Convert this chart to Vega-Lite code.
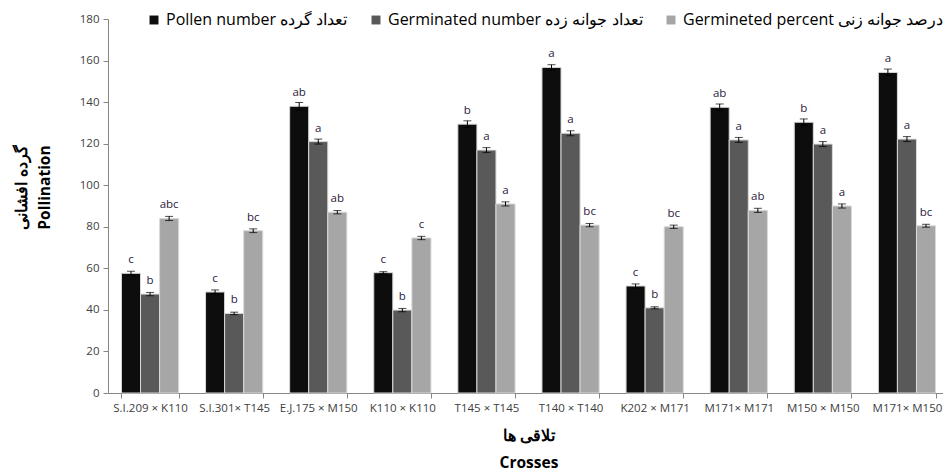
{
  "$schema": "https://vega.github.io/schema/vega-lite/v6.json",
  "autosize": {"type": "none"},
  "padding": {"left": 108, "top": 19, "right": 0, "bottom": 79},
  "width": 835,
  "height": 374,
  "config": {
    "font": "Open Sans",
    "view": {"stroke": null}
  },
  "data": {
    "values": [
      {"cross": "S.I.209 × K110", "series": "Pollen number تعداد گرده", "value": 57.6, "err": 1.0, "letter": "c"},
      {"cross": "S.I.209 × K110", "series": "Germinated number تعداد جوانه زده", "value": 47.6, "err": 0.8, "letter": "b"},
      {"cross": "S.I.209 × K110", "series": "Germineted percent درصد جوانه زنی", "value": 84.0, "err": 1.0, "letter": "abc"},
      {"cross": "S.I.301× T145", "series": "Pollen number تعداد گرده", "value": 48.6, "err": 1.0, "letter": "c"},
      {"cross": "S.I.301× T145", "series": "Germinated number تعداد جوانه زده", "value": 38.3, "err": 0.6, "letter": "b"},
      {"cross": "S.I.301× T145", "series": "Germineted percent درصد جوانه زنی", "value": 78.1, "err": 0.9, "letter": "bc"},
      {"cross": "E.J.175 × M150", "series": "Pollen number تعداد گرده", "value": 138.0, "err": 1.8, "letter": "ab"},
      {"cross": "E.J.175 × M150", "series": "Germinated number تعداد جوانه زده", "value": 121.0, "err": 1.2, "letter": "a"},
      {"cross": "E.J.175 × M150", "series": "Germineted percent درصد جوانه زنی", "value": 87.0, "err": 0.8, "letter": "ab"},
      {"cross": "K110 × K110", "series": "Pollen number تعداد گرده", "value": 57.9, "err": 0.5, "letter": "c"},
      {"cross": "K110 × K110", "series": "Germinated number تعداد جوانه زده", "value": 39.9, "err": 0.8, "letter": "b"},
      {"cross": "K110 × K110", "series": "Germineted percent درصد جوانه زنی", "value": 74.6, "err": 0.8, "letter": "c"},
      {"cross": "T145 × T145", "series": "Pollen number تعداد گرده", "value": 129.4, "err": 1.6, "letter": "b"},
      {"cross": "T145 × T145", "series": "Germinated number تعداد جوانه زده", "value": 116.9, "err": 1.2, "letter": "a"},
      {"cross": "T145 × T145", "series": "Germineted percent درصد جوانه زنی", "value": 91.0, "err": 1.0, "letter": "a"},
      {"cross": "T140 × T140", "series": "Pollen number تعداد گرده", "value": 156.7, "err": 1.3, "letter": "a"},
      {"cross": "T140 × T140", "series": "Germinated number تعداد جوانه زده", "value": 125.0, "err": 1.2, "letter": "a"},
      {"cross": "T140 × T140", "series": "Germineted percent درصد جوانه زنی", "value": 80.8, "err": 0.8, "letter": "bc"},
      {"cross": "K202 × M171", "series": "Pollen number تعداد گرده", "value": 51.5, "err": 1.0, "letter": "c"},
      {"cross": "K202 × M171", "series": "Germinated number تعداد جوانه زده", "value": 41.0, "err": 0.5, "letter": "b"},
      {"cross": "K202 × M171", "series": "Germineted percent درصد جوانه زنی", "value": 80.0, "err": 0.8, "letter": "bc"},
      {"cross": "M171× M171", "series": "Pollen number تعداد گرده", "value": 137.5, "err": 1.6, "letter": "ab"},
      {"cross": "M171× M171", "series": "Germinated number تعداد جوانه زده", "value": 121.8, "err": 1.2, "letter": "a"},
      {"cross": "M171× M171", "series": "Germineted percent درصد جوانه زنی", "value": 87.9, "err": 1.0, "letter": "ab"},
      {"cross": "M150 × M150", "series": "Pollen number تعداد گرده", "value": 130.3, "err": 1.6, "letter": "b"},
      {"cross": "M150 × M150", "series": "Germinated number تعداد جوانه زده", "value": 119.8, "err": 1.2, "letter": "a"},
      {"cross": "M150 × M150", "series": "Germineted percent درصد جوانه زنی", "value": 90.0, "err": 1.0, "letter": "a"},
      {"cross": "M171× M150", "series": "Pollen number تعداد گرده", "value": 154.3, "err": 1.6, "letter": "a"},
      {"cross": "M171× M150", "series": "Germinated number تعداد جوانه زده", "value": 122.2, "err": 1.2, "letter": "a"},
      {"cross": "M171× M150", "series": "Germineted percent درصد جوانه زنی", "value": 80.5, "err": 0.7, "letter": "bc"}
    ]
  },
  "encoding": {
    "x": {
      "field": "cross", "type": "nominal", "sort": null,
      "scale": {"paddingInner": 0.32, "paddingOuter": 0.16, "range": [0, 841]},
      "axis": {
        "title": ["تلاقی ها", "Crosses"],
        "titleFontSize": 15.5, "titleFontWeight": "bold", "titleColor": "#000000",
        "titlePadding": 15, "titleLineHeight": 27,
        "labelAngle": 0, "labelFontSize": 11.5, "labelColor": "#404040", "labelPadding": 4,
        "tickBand": "extent", "tickColor": "#868686", "domainColor": "#868686", "tickSize": 5
      }
    },
    "xOffset": {"field": "series", "type": "nominal", "sort": null, "scale": {"paddingInner": 0, "paddingOuter": 0}},
    "y": {
      "field": "value", "type": "quantitative",
      "scale": {"domain": [0, 180]},
      "axis": {
        "values": [0, 20, 40, 60, 80, 100, 120, 140, 160, 180],
        "grid": false,
        "title": ["گرده افشانی", "Pollination"],
        "titleFontSize": 15.5, "titleFontWeight": "bold", "titleColor": "#000000",
        "titleLineHeight": 23, "titlePadding": 27, "titleY": 168,
        "labelFontSize": 11.5, "labelColor": "#404040", "labelPadding": 4,
        "tickColor": "#868686", "domainColor": "#868686", "tickSize": 5
      }
    }
  },
  "layer": [
    {
      "mark": {"type": "bar", "stroke": "#d9d9d9", "strokeWidth": 1},
      "encoding": {
        "color": {
          "field": "series", "type": "nominal", "sort": null,
          "scale": {
            "domain": ["Pollen number تعداد گرده", "Germinated number تعداد جوانه زده", "Germineted percent درصد جوانه زنی"],
            "range": ["#0d0d0d", "#595959", "#a6a6a6"]
          },
          "legend": {
            "title": null, "orient": "none", "direction": "horizontal",
            "legendX": 38, "legendY": -7,
            "symbolType": "square", "symbolSize": 80, "symbolStrokeWidth": 0,
            "labelFontSize": 16, "labelColor": "#000000", "columnPadding": 20, "labelLimit": 400
          }
        }
      }
    },
    {
      "mark": {"type": "errorbar", "color": "#000000", "thickness": 1, "ticks": {"size": 8, "thickness": 1, "color": "#000000"}},
      "encoding": {
        "yError": {"field": "err"}
      }
    },
    {
      "mark": {"type": "text", "baseline": "alphabetic", "dy": -10, "fontSize": 11.5, "color": "#2b2140"},
      "encoding": {
        "text": {"field": "letter"}
      }
    }
  ]
}
